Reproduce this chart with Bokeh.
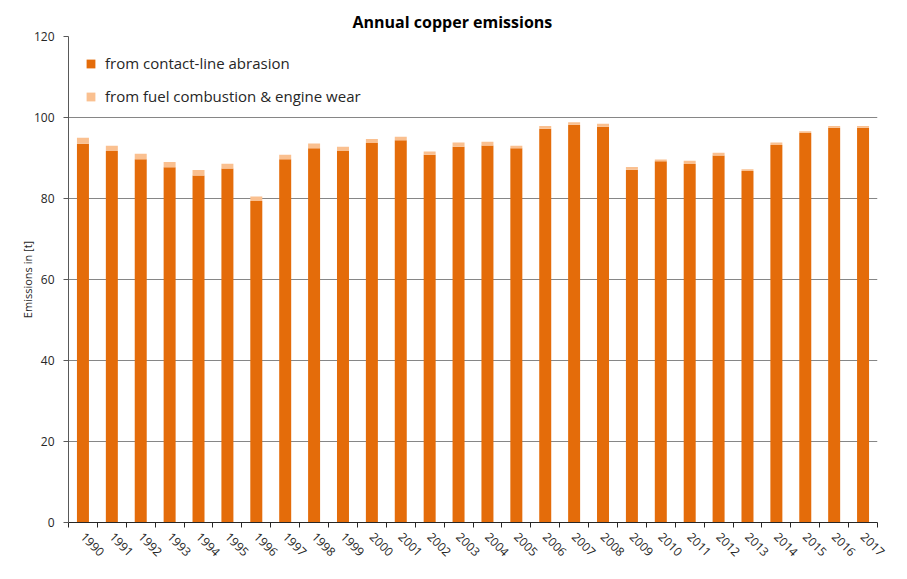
import math
from bokeh.plotting import figure
from bokeh.models import FixedTicker, Range1d, ColumnDataSource
from bokeh.embed import file_html
from bokeh.resources import INLINE

years = [str(y) for y in range(1990, 2018)]
contact_line = [93.5, 91.7, 89.7, 87.7, 85.7, 87.4, 79.4, 89.7, 92.4, 91.7,
                93.7, 94.4, 90.8, 92.8, 93.1, 92.4, 97.2, 98.2, 97.7, 87.1,
                89.2, 88.5, 90.6, 86.8, 93.2, 96.2, 97.5, 97.5]
fuel_engine = [1.5, 1.3, 1.35, 1.3, 1.35, 1.15, 1.1, 1.1, 1.2, 1.1,
               1.0, 0.85, 0.8, 1.0, 0.9, 0.65, 0.7, 0.65, 0.75, 0.65,
               0.4, 0.8, 0.7, 0.45, 0.6, 0.4, 0.4, 0.4]
y_ticks = [0, 20, 40, 60, 80, 100, 120]

series_names = ["from contact-line abrasion", "from fuel combustion & engine wear"]
colors = ["#E46C0A", "#FAC090"]

FONT = "Open Sans"

xpos = [i + 0.5 for i in range(len(years))]
source = ColumnDataSource(dict(x=xpos, contact=contact_line, fuel=fuel_engine))

p = figure(width=891, height=563, x_range=Range1d(0, len(years)), y_range=Range1d(0, 120),
           output_backend="svg", toolbar_location=None,
           min_border_left=68, min_border_right=14, min_border_top=36, min_border_bottom=36)

p.vbar_stack(["contact", "fuel"], x="x", width=0.415, color=colors, source=source,
             legend_label=series_names, line_color=None)

p.outline_line_color = None
p.background_fill_color = "white"
p.border_fill_color = "white"

# Title
p.title.text = "Annual copper emissions"
p.title.align = "left"
p.title.offset = 284
p.title.text_font = FONT
p.title.text_font_size = "16px"
p.title.text_font_style = "bold"
p.title.text_color = "#000000"
p.title.standoff = 8

# X axis
xa = p.xaxis[0]
xa.ticker = FixedTicker(ticks=xpos, minor_ticks=list(range(len(years) + 1)))
xa.major_label_overrides = {x: y for x, y in zip(xpos, years)}
xa.major_label_orientation = -math.pi / 4
xa.major_tick_out = 0
xa.major_tick_in = 0
xa.minor_tick_out = 5
xa.minor_tick_in = 0
xa.minor_tick_line_color = "#262626"
xa.axis_line_color = "#262626"
xa.major_label_text_font = FONT
xa.major_label_text_font_size = "12px"
xa.major_label_text_color = "#262626"
xa.major_label_standoff = 7

# Y axis
ya = p.yaxis[0]
ya.ticker = FixedTicker(ticks=y_ticks, minor_ticks=[])
ya.major_tick_out = 5
ya.major_tick_in = 0
ya.minor_tick_out = 0
ya.minor_tick_in = 0
ya.axis_line_color = "#595959"
ya.major_tick_line_color = "#595959"
ya.major_label_text_font = FONT
ya.major_label_text_font_size = "12px"
ya.major_label_text_color = "#262626"
ya.major_label_standoff = 9
ya.axis_label = "Emissions in [t]"
ya.axis_label_text_font = FONT
ya.axis_label_text_font_size = "11px"
ya.axis_label_text_font_style = "normal"
ya.axis_label_text_color = "#262626"
ya.axis_label_standoff = -4

# Grid
p.xgrid.visible = False
p.ygrid.grid_line_color = "#868686"
p.ygrid.grid_line_width = 1.2

# Legend
lg = p.legend[0]
lg.location = "top_left"
lg.margin = 17
lg.padding = 20
lg.border_line_color = None
lg.background_fill_alpha = 0
lg.glyph_width = 11
lg.glyph_height = 11
lg.label_height = 11
lg.spacing = 13
lg.label_standoff = 9
lg.label_text_font = FONT
lg.label_text_font_size = "15px"
lg.label_text_color = "#262626"

open("out.html", "w").write(file_html(p, INLINE))
